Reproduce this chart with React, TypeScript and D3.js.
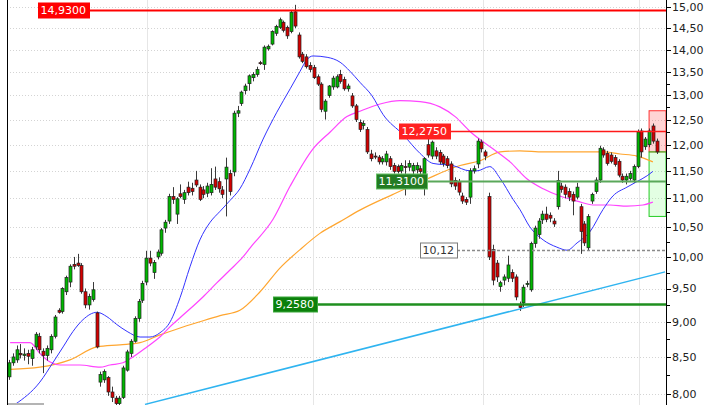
import * as d3 from 'd3'
import { useEffect, useRef } from 'react'

const WIDTH = 720
const HEIGHT = 405
const PLOT_LEFT = 7
const PLOT_RIGHT = 666

// daily candles, oldest first
const opens = [
  8.23, 8.42, 8.46, 8.55, 8.52, 8.55, 8.48, 8.64, 8.79, 8.58,
  8.52, 8.6, 8.79, 9.17, 9.15, 9.45, 9.6, 9.88, 9.9, 9.86,
  9.45, 9.25, 9.33, 9.13, 8.16, 8.19, 8.22, 8.03, 7.95, 7.88,
  7.96, 8.32, 8.55, 8.72, 9.05, 9.32, 9.6, 9.98, 9.75, 10.0,
  10.06, 10.48, 10.6, 11.03, 10.72, 11.08, 10.98, 11.2, 11.18, 11.33,
  11.2, 11.15, 11.09, 11.1, 11.35, 11.3, 11.15, 11.35, 11.45, 11.48,
  12.63, 12.83, 13.1, 13.25, 13.38, 13.45, 13.71, 13.67, 14.02, 14.13,
  14.38, 14.52, 14.64, 14.52, 14.42, 14.89, 14.34, 13.9, 13.84, 13.65,
  13.6, 13.4, 13.24, 12.67, 13.0, 13.18, 13.18, 13.45, 13.34, 13.14,
  12.99, 12.78, 12.44, 12.38, 12.3, 11.82, 11.78, 11.76, 11.67, 11.67,
  11.73, 11.6, 11.58, 11.5, 11.58, 11.57, 11.5, 11.52, 11.54, 11.3,
  12.0, 11.78, 11.88, 11.85, 11.78, 11.73, 11.63, 11.32, 11.3, 11.04,
  10.98, 11.02, 11.5, 11.63, 12.05, 11.86, 11.03, 10.12, 9.9, 9.53,
  9.63, 9.66, 9.75, 9.68, 9.25, 9.28, 9.56, 9.48, 10.22, 10.37,
  10.62, 10.72, 10.7, 10.6, 10.85, 11.22, 11.2, 11.12, 11.07, 11.02,
  10.85, 10.55, 10.15, 10.95, 11.12, 11.33, 11.9, 11.83, 11.8, 11.75,
  11.68, 11.4, 11.33, 11.36, 11.33, 11.58, 12.27, 11.96, 12.0, 12.37, 12.07,
]
const highs = [
  8.46, 8.55, 8.66, 8.68, 8.62, 8.6, 8.64, 8.85, 8.84, 8.62,
  8.66, 8.82, 9.1, 9.2, 9.52, 9.7, 9.88, 10.0, 10.05, 9.9,
  9.5, 9.42, 9.6, 9.15, 8.3, 8.33, 8.24, 8.1, 7.98, 7.98,
  8.38, 8.6, 8.75, 9.08, 9.34, 9.62, 10.1, 10.1, 9.95, 10.12,
  10.48, 10.62, 11.08, 11.2, 11.02, 11.25, 11.15, 11.3, 11.28, 11.5,
  11.25, 11.22, 11.28, 11.55, 11.58, 11.38, 11.22, 11.75, 11.52, 12.68,
  12.78, 13.1, 13.25, 13.45, 13.5, 13.62, 13.75, 14.1, 14.12, 14.45,
  14.58, 14.75, 14.68, 14.56, 14.92, 15.06, 14.4, 13.95, 13.9, 13.72,
  13.66, 13.45, 13.28, 12.92, 13.22, 13.42, 13.45, 13.55, 13.4, 13.25,
  13.05, 12.82, 12.5, 12.48, 12.35, 11.9, 11.85, 11.8, 11.78, 11.88,
  11.78, 11.65, 11.62, 11.65, 11.7, 11.7, 11.65, 11.66, 11.6, 11.76,
  12.15, 12.08, 11.95, 11.9, 11.82, 11.78, 11.68, 11.38, 11.35, 11.1,
  11.02, 11.55, 11.6, 12.12, 12.1, 11.9, 11.1, 10.2, 9.95, 9.62,
  9.72, 10.02, 9.8, 9.72, 9.3, 9.56, 9.62, 10.25, 10.52, 10.65,
  10.78, 10.85, 10.75, 10.65, 11.5, 11.28, 11.25, 11.18, 11.12, 11.28,
  10.9, 10.6, 10.72, 11.1, 11.38, 11.98, 11.95, 11.88, 11.85, 11.8,
  11.72, 11.45, 11.45, 11.5, 11.62, 12.3, 12.32, 12.15, 12.32, 12.42, 12.12,
]
const lows = [
  8.19, 8.38, 8.42, 8.48, 8.45, 8.4, 8.38, 8.6, 8.55, 8.28,
  8.45, 8.55, 8.76, 9.12, 9.12, 9.4, 9.52, 9.8, 9.84, 9.42,
  9.2, 9.18, 9.3, 8.62, 8.1, 8.15, 7.98, 7.9, 7.84, 7.84,
  7.94, 8.3, 8.5, 8.7, 9.0, 9.28, 9.55, 9.85, 9.65, 9.96,
  10.02, 10.4, 10.55, 10.9, 10.55, 11.0, 10.9, 11.05, 11.05, 11.2,
  10.95, 11.0, 11.02, 11.05, 11.15, 11.1, 11.0, 10.68, 11.05, 11.4,
  12.55, 12.78, 13.02, 13.1, 13.3, 13.4, 13.66, 13.55, 13.98, 14.1,
  14.32, 14.48, 14.4, 14.25, 14.38, 14.5, 13.8, 13.7, 13.58, 13.5,
  13.35, 13.2, 12.65, 12.5, 12.95, 13.12, 13.15, 13.25, 13.1, 13.08,
  12.74, 12.45, 12.25, 12.3, 11.82, 11.68, 11.72, 11.62, 11.62, 11.6,
  11.52, 11.45, 11.45, 11.45, 11.05, 11.5, 11.4, 11.45, 11.42, 11.05,
  11.75, 11.72, 11.72, 11.62, 11.58, 11.55, 11.2, 11.15, 11.05, 10.9,
  10.88, 10.9, 11.45, 11.55, 11.85, 11.7, 9.95, 9.55, 9.6, 9.45,
  9.55, 9.6, 9.6, 9.32, 9.16, 9.22, 9.52, 9.45, 10.15, 10.3,
  10.55, 10.58, 10.58, 10.5, 10.8, 11.1, 11.0, 10.95, 10.7, 10.98,
  10.05, 10.18, 10.1, 10.9, 11.08, 11.28, 11.75, 11.6, 11.64, 11.58,
  11.38, 11.28, 11.25, 11.32, 11.28, 11.55, 11.75, 11.9, 11.95, 12.02, 11.82,
]
const closes = [
  8.42, 8.5, 8.6, 8.53, 8.54, 8.51, 8.6, 8.82, 8.6, 8.52,
  8.62, 8.79, 9.07, 9.14, 9.5, 9.67, 9.85, 9.85, 9.86, 9.45,
  9.25, 9.38, 9.48, 8.64, 8.26, 8.3, 8.03, 7.96, 7.88, 7.95,
  8.35, 8.57, 8.72, 9.05, 9.3, 9.58, 9.98, 9.9, 9.91, 10.08,
  10.45, 10.58, 11.03, 10.98, 10.99, 11.03, 11.1, 11.1, 11.12, 11.24,
  10.98, 11.07, 11.22, 11.25, 11.2, 11.17, 11.07, 11.57, 11.12, 12.63,
  12.68, 13.07, 13.2, 13.42, 13.45, 13.56, 13.7, 14.06, 14.08, 14.42,
  14.54, 14.7, 14.45, 14.32, 14.88, 14.55, 13.84, 13.74, 13.62, 13.56,
  13.38, 13.24, 12.71, 12.88, 13.2, 13.37, 13.4, 13.3, 13.14, 13.2,
  12.78, 12.5, 12.3, 12.42, 11.86, 11.73, 11.77, 11.67, 11.73, 11.82,
  11.58, 11.49, 11.49, 11.6, 11.57, 11.64, 11.6, 11.6, 11.49, 11.73,
  11.8, 12.05, 11.78, 11.67, 11.64, 11.6, 11.26, 11.22, 11.11, 10.95,
  10.93, 11.5, 11.54, 12.07, 11.92, 11.78, 10.0, 9.63, 9.68, 9.59,
  9.68, 9.87, 9.66, 9.37, 9.21, 9.52, 9.58, 10.22, 10.48, 10.6,
  10.72, 10.63, 10.65, 10.55, 11.32, 11.16, 11.07, 11.02, 10.95, 11.2,
  10.42, 10.23, 10.68, 11.07, 11.33, 11.93, 11.8, 11.64, 11.68, 11.62,
  11.42, 11.33, 11.4, 11.45, 11.58, 12.25, 11.86, 12.11, 12.27, 12.07, 11.86,
]

// moving averages: [candle index, price]
const fastMa: [number, number][] = [
  [1.6, 7.87], [8.1, 8.16], [11.5, 8.42], [14.2, 8.64], [16.8, 8.86], [19.4, 9.03],
  [23.1, 9.14], [25.7, 9.075], [28.3, 8.96], [31, 8.86], [34.4, 8.78], [37, 8.78],
  [39.6, 8.84], [42.3, 9.0], [44.9, 9.36], [47.5, 9.84], [50.1, 10.28], [52.8, 10.58],
  [55.4, 10.77], [58, 10.96], [60.6, 11.17], [63.3, 11.54], [66.7, 12.11], [70.3, 12.65],
  [73.8, 13.14], [76.4, 13.52], [78.2, 13.78], [79.8, 13.86], [83.5, 13.83], [86.9, 13.72],
  [89.5, 13.52], [92.1, 13.28], [95.3, 12.99], [98.2, 12.6], [103.4, 12.2], [107.9, 11.83],
  [111.3, 11.64], [116.5, 11.6], [121, 11.5], [122.8, 11.5], [126.2, 11.58], [128.9, 11.36],
  [132.3, 10.98], [134.1, 10.8], [136.7, 10.5], [140.2, 10.28], [143.8, 10.16], [146.5, 10.11],
  [149.1, 10.23], [152.5, 10.42], [155.9, 10.8], [158.5, 11.04], [162.2, 11.2], [164.8, 11.3],
  [167.5, 11.41], [169, 11.49],
]
const midMa: [number, number][] = [
  [0.3, 8.7], [5.5, 8.7], [8.1, 8.55], [10.8, 8.43], [13.4, 8.39], [18.6, 8.39],
  [23.9, 8.36], [26.5, 8.39], [29.9, 8.42], [32.5, 8.5], [36.2, 8.64], [39.6, 8.78],
  [42.3, 8.93], [44.9, 9.06], [50.9, 9.37], [54.6, 9.59], [58, 9.79], [61.4, 10.0],
  [63.3, 10.15], [69.3, 10.63], [73.8, 11.22], [79.8, 11.92], [84.3, 12.25], [88.7, 12.56],
  [92.1, 12.67], [97.4, 12.82], [102.6, 12.89], [107.9, 12.87], [113.1, 12.76], [117.1, 12.56],
  [121, 12.26], [127, 11.92], [131.5, 11.67], [136, 11.35], [140.2, 11.17], [144.6, 11.04],
  [149.1, 10.95], [153.3, 10.88], [157.7, 10.88], [162.2, 10.86], [166.4, 10.88], [169, 10.93],
]
const slowMa: [number, number][] = [
  [0.3, 8.33], [8.1, 8.36], [16, 8.46], [23.1, 8.64], [29.1, 8.67], [34.4, 8.7],
  [39.6, 8.81], [44.9, 8.91], [50.1, 9.0], [55.4, 9.09], [60.6, 9.17], [65.9, 9.45],
  [71.1, 9.82], [76.4, 10.12], [81.6, 10.39], [86.9, 10.59], [92.1, 10.79], [100.8, 11.07],
  [109.7, 11.35], [118.4, 11.6], [123.6, 11.69], [128.9, 11.86], [134.1, 11.88], [140.2, 11.86],
  [149.1, 11.86], [155.9, 11.86], [160.4, 11.82], [164.8, 11.78], [169, 11.67],
]

const majorTicks = d3.range(8, 15.001, 0.5)
const minorTicks = d3.range(8.25, 13.5, 0.5)
const periodBreaks = [36.2, 79.8, 124.4, 165.4]

// drawn price levels
const levelPrices = [14.93, 12.275, 11.31, 10.12, 9.258]
const levelLabels = ['14,9300', '12,2750', '11,3100', '10,12', '9,2580']
const levelStarts = [7.6, 102.4, 96.3, 107.9, 69.3]

// trend line anchors
const trendIndex = [35.7, 172.2]
const trendPrice = [7.87, 9.76]

// position tool: target, entry, stop
const toolStart = 168
const toolPrices = [12.68, 11.86, 10.68]

const LEVEL_STYLES = [
  { fill: '#ff0000', border: '#ff0000', text: '#fff', line: '#ff0000', width: 2, dash: '' },
  { fill: '#ff2020', border: '#ff2020', text: '#fff', line: '#ff1a1a', width: 1.5, dash: '' },
  { fill: '#237c23', border: '#66c266', text: '#fff', line: '#5aa85a', width: 2, dash: '' },
  { fill: '#ffffff', border: '#7a7a7a', text: '#333', line: '#8a8a8a', width: 1.4, dash: '3,2' },
  { fill: '#0b800b', border: '#3aa83a', text: '#fff', line: '#1f8f1f', width: 2.5, dash: '' },
]

const FONT = '"DejaVu Sans", Verdana, sans-serif'
const fmtAxis = (v: number) => d3.format('.2f')(v).replace('.', ',')

function drawChart(svg: d3.Selection<SVGSVGElement, unknown, null, undefined>) {
  const x = d3.scaleLinear().domain([0, 170]).range([9, 656.7])
  const y = d3.scaleLog().domain([8, 15]).range([394.3, 7.3])
  const cx = (i: number) => Math.round(x(i)) + 0.5
  const cy = (p: number) => Math.round(y(p)) + 0.5

  svg.append('rect').attr('width', WIDTH).attr('height', HEIGHT).attr('fill', '#fff')

  svg
    .append('defs')
    .append('clipPath')
    .attr('id', 'plot-clip')
    .append('rect')
    .attr('x', PLOT_LEFT)
    .attr('y', 0)
    .attr('width', PLOT_RIGHT - PLOT_LEFT)
    .attr('height', HEIGHT)

  const plot = svg.append('g').attr('clip-path', 'url(#plot-clip)')

  // grid
  plot
    .append('g')
    .selectAll('line')
    .data(majorTicks)
    .join('line')
    .attr('x1', PLOT_LEFT)
    .attr('x2', PLOT_RIGHT)
    .attr('y1', (d) => cy(d))
    .attr('y2', (d) => cy(d))
    .attr('stroke', '#d4d4d4')
    .attr('stroke-dasharray', '1,2')
  plot
    .append('g')
    .selectAll('line')
    .data(periodBreaks)
    .join('line')
    .attr('x1', (d) => cx(d))
    .attr('x2', (d) => cx(d))
    .attr('y1', 0)
    .attr('y2', HEIGHT)
    .attr('stroke', '#e6e6e6')

  // position tool
  const toolX = x(toolStart)
  plot
    .append('rect')
    .attr('x', toolX)
    .attr('y', y(toolPrices[0]))
    .attr('width', PLOT_RIGHT - toolX)
    .attr('height', y(toolPrices[1]) - y(toolPrices[0]))
    .attr('fill', 'rgba(255,60,60,0.22)')
    .attr('stroke', '#ff3030')
  plot
    .append('rect')
    .attr('x', toolX)
    .attr('y', y(toolPrices[1]))
    .attr('width', PLOT_RIGHT - toolX)
    .attr('height', y(toolPrices[2]) - y(toolPrices[1]))
    .attr('fill', 'rgba(80,255,80,0.16)')
    .attr('stroke', '#22cc22')

  // moving averages
  const line = d3
    .line<[number, number]>()
    .x((d) => x(d[0]))
    .y((d) => y(d[1]))
    .curve(d3.curveMonotoneX)
  const maGroup = plot.append('g').attr('fill', 'none')
  maGroup.append('path').attr('d', line(slowMa)).attr('stroke', '#ffa630').attr('stroke-width', 1.2)
  maGroup.append('path').attr('d', line(midMa)).attr('stroke', '#ff44ff').attr('stroke-width', 1.2)
  maGroup.append('path').attr('d', line(fastMa)).attr('stroke', '#3333ff').attr('stroke-width', 1)

  // candles
  const idx = d3.range(opens.length)
  const candles = plot.append('g')
  candles
    .selectAll('line')
    .data(idx)
    .join('line')
    .attr('x1', (i) => cx(i))
    .attr('x2', (i) => cx(i))
    .attr('y1', (i) => y(highs[i]))
    .attr('y2', (i) => y(lows[i]))
    .attr('stroke', '#3a3a3a')
  candles
    .selectAll('rect')
    .data(idx)
    .join('rect')
    .attr('x', (i) => cx(i) - 1.5)
    .attr('width', 3)
    .attr('y', (i) => y(Math.max(opens[i], closes[i])))
    .attr('height', (i) => Math.max(1, Math.abs(y(opens[i]) - y(closes[i]))))
    .attr('fill', (i) => (closes[i] >= opens[i] ? '#00b800' : '#d40000'))
    .attr('stroke', '#202020')
    .attr('stroke-width', 0.7)

  // trend line
  plot
    .append('line')
    .attr('x1', x(trendIndex[0]))
    .attr('y1', y(trendPrice[0]))
    .attr('x2', x(trendIndex[1]))
    .attr('y2', y(trendPrice[1]))
    .attr('stroke', '#2fb4f0')
    .attr('stroke-width', 1.5)

  // price levels with labels
  levelPrices.forEach((price, k) => {
    const st = LEVEL_STYLES[k]
    const g = plot.append('g')
    const ly = cy(price)
    const bx = Math.round(x(levelStarts[k]))
    const text = g
      .append('text')
      .attr('x', bx + 2.5)
      .attr('y', ly)
      .attr('dy', '0.36em')
      .attr('font-family', FONT)
      .attr('font-size', 11)
      .attr('fill', st.text)
      .text(levelLabels[k])
    const w = Math.round((text.node() as SVGTextElement).getComputedTextLength() + 5)
    g.insert('rect', 'text')
      .attr('x', bx + 0.5)
      .attr('y', ly - 7.5)
      .attr('width', w)
      .attr('height', 15)
      .attr('fill', st.fill)
      .attr('stroke', st.border)
    g.insert('line', 'rect')
      .attr('x1', bx + w)
      .attr('x2', PLOT_RIGHT)
      .attr('y1', ly)
      .attr('y2', ly)
      .attr('stroke', st.line)
      .attr('stroke-width', st.width)
      .attr('stroke-dasharray', st.dash || null)
  })

  // frame and right price axis
  svg
    .append('line')
    .attr('x1', PLOT_LEFT + 0.5)
    .attr('x2', PLOT_LEFT + 0.5)
    .attr('y1', 0)
    .attr('y2', HEIGHT)
    .attr('stroke', '#000')
  svg
    .append('rect')
    .attr('x', PLOT_LEFT + 1)
    .attr('y', HEIGHT - 2)
    .attr('width', 36)
    .attr('height', 2)
    .attr('fill', '#b4b4b4')

  const axis = svg.append('g')
  axis
    .append('line')
    .attr('x1', PLOT_RIGHT + 0.5)
    .attr('x2', PLOT_RIGHT + 0.5)
    .attr('y1', 0)
    .attr('y2', HEIGHT)
    .attr('stroke', '#000')
  axis
    .selectAll('line.minor')
    .data(minorTicks)
    .join('line')
    .attr('class', 'minor')
    .attr('x1', PLOT_RIGHT)
    .attr('x2', PLOT_RIGHT + 4)
    .attr('y1', (d) => cy(d))
    .attr('y2', (d) => cy(d))
    .attr('stroke', '#000')
  axis
    .selectAll('line.major')
    .data(majorTicks)
    .join('line')
    .attr('class', 'major')
    .attr('x1', PLOT_RIGHT)
    .attr('x2', PLOT_RIGHT + 5)
    .attr('y1', (d) => cy(d))
    .attr('y2', (d) => cy(d))
    .attr('stroke', '#000')
  axis
    .selectAll('text')
    .data(majorTicks)
    .join('text')
    .attr('x', PLOT_RIGHT + 6)
    .attr('y', (d) => y(d))
    .attr('dy', '0.36em')
    .attr('font-family', FONT)
    .attr('font-size', 11)
    .attr('fill', '#222')
    .text((d) => fmtAxis(d))
}

export default function App() {
  const ref = useRef<SVGSVGElement>(null)
  useEffect(() => {
    if (!ref.current) return
    const svg = d3.select(ref.current)
    svg.selectAll('*').remove()
    drawChart(svg)
  }, [])
  return (
    <svg
      ref={ref}
      width={WIDTH}
      height={HEIGHT}
      viewBox={`0 0 ${WIDTH} ${HEIGHT}`}
      style={{ position: 'absolute', left: 0, top: 0, display: 'block' }}
    />
  )
}
